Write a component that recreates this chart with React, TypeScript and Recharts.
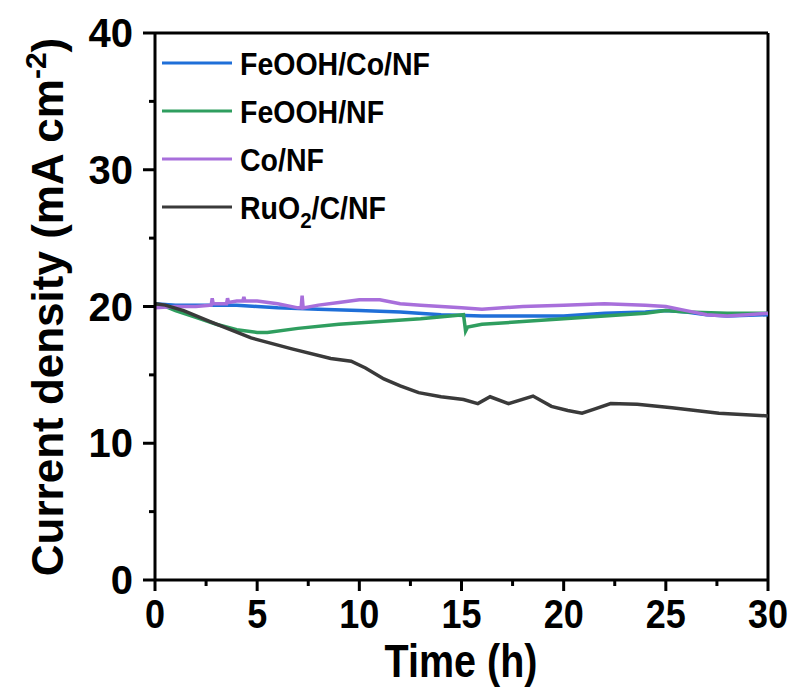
import React from 'react';
import { LineChart, Line, XAxis, YAxis, ReferenceLine, Legend, Label } from 'recharts';

const seriesNames = ['FeOOH/Co/NF', 'FeOOH/NF', 'Co/NF', 'RuO2/C/NF'];
const seriesColors = ['#1f6fd8', '#2f9e5f', '#a86fdb', '#3a3a3a'];

const feoohCoTime = [0, 1, 2, 3, 4, 5, 6, 8, 10, 12, 14, 16, 18, 20, 22, 24, 25, 26, 27, 28, 30];
const feoohCoValues = [20.2, 20.1, 20.1, 20.1, 20.1, 20.0, 19.9, 19.8, 19.7, 19.6, 19.4, 19.3, 19.3, 19.3, 19.5, 19.6, 19.7, 19.6, 19.4, 19.3, 19.4];

const feoohTime = [0, 0.5, 1, 2, 3, 4, 5, 5.5, 7, 9, 11, 13, 15.1, 15.2, 15.3, 16, 18, 20, 22, 24, 25, 26, 28, 30];
const feoohValues = [20.2, 20.0, 19.7, 19.2, 18.7, 18.3, 18.1, 18.1, 18.4, 18.7, 18.9, 19.1, 19.4, 18.2, 18.5, 18.7, 18.9, 19.1, 19.3, 19.5, 19.7, 19.6, 19.5, 19.5];

const coTime = [0, 1, 2, 2.75, 2.8, 2.85, 3.5, 3.55, 3.6, 4, 4.3, 4.35, 4.4, 5, 6, 7, 7.15, 7.2, 7.25, 8, 9, 10, 11, 12, 13, 14, 15, 16, 18, 20, 22, 24, 25, 26, 27, 28, 29, 30];
const coValues = [19.9, 20.0, 20.0, 20.1, 20.6, 20.2, 20.2, 20.6, 20.3, 20.4, 20.4, 20.7, 20.4, 20.4, 20.2, 19.9, 19.9, 20.8, 19.9, 20.1, 20.3, 20.5, 20.5, 20.2, 20.1, 20.0, 19.9, 19.8, 20.0, 20.1, 20.2, 20.1, 20.0, 19.7, 19.4, 19.3, 19.4, 19.5];

const ruTime = [0, 0.5, 1.4, 2.7, 4.7, 6.7, 8.6, 9.6, 10.3, 11.2, 12.0, 12.9, 14, 15.1, 15.8, 16.4, 17.3, 18.5, 19.4, 20.2, 20.9, 21.5, 22.3, 23.6, 25.3, 27.6, 30];
const ruValues = [20.2, 20.1, 19.7, 18.9, 17.7, 16.9, 16.2, 16.0, 15.5, 14.7, 14.2, 13.7, 13.4, 13.2, 12.9, 13.4, 12.9, 13.45, 12.7, 12.4, 12.2, 12.5, 12.9, 12.85, 12.6, 12.2, 12.0];

const xTicks = [0, 2.5, 5, 7.5, 10, 12.5, 15, 17.5, 20, 22.5, 25, 27.5, 30];
const yTicks = [0, 5, 10, 15, 20, 25, 30, 35, 40];

const toRows = (t: number[], v: number[]) => t.map((time, i) => ({ time, value: v[i] }));
const seriesData = [
  toRows(feoohCoTime, feoohCoValues),
  toRows(feoohTime, feoohValues),
  toRows(coTime, coValues),
  toRows(ruTime, ruValues),
];

const FONT = '"Liberation Sans", Arial, sans-serif';

const XTick = (props: any) => {
  const { x, y, payload } = props;
  const major = payload.value % 5 === 0;
  return (
    <g>
      <line x1={x} x2={x} y1={y} y2={y + (major ? 11 : 6)} stroke="#000" strokeWidth={3} />
      {major && (
        <text
          transform={`translate(${x}, ${y + 48}) scale(0.9, 1)`}
          textAnchor="middle"
          fontFamily={FONT}
          fontWeight="bold"
          fontSize={40}
          fill="#000"
        >
          {payload.value}
        </text>
      )}
    </g>
  );
};

const YTick = (props: any) => {
  const { x, y, payload } = props;
  const major = payload.value % 10 === 0;
  return (
    <g>
      <line x1={x} x2={x - (major ? 12 : 6)} y1={y} y2={y} stroke="#000" strokeWidth={3} />
      {major && (
        <text x={x - 22} y={y + 14} textAnchor="end" fontFamily={FONT} fontWeight="bold" fontSize={40} fill="#000">
          {payload.value}
        </text>
      )}
    </g>
  );
};

const renderName = (name: string) => {
  const parts = name.split(/(\d)/);
  const out: any[] = [];
  let shifted = false;
  parts.forEach((p, i) => {
    if (p === '') return;
    if (/^\d$/.test(p)) {
      out.push(<tspan key={i} dy={9} fontSize="0.72em">{p}</tspan>);
      shifted = true;
    } else {
      out.push(<tspan key={i} dy={shifted ? -9 : 0}>{p}</tspan>);
      shifted = false;
    }
  });
  return out;
};

const LegendContent = () => (
  <svg width={330} height={200} style={{ display: 'block' }}>
    {seriesNames.map((name, i) => {
      const cy = 25 + i * 48;
      return (
        <g key={name}>
          <line x1={4} x2={74} y1={cy} y2={cy} stroke={seriesColors[i]} strokeWidth={3} />
          <text
            transform={`translate(82, ${cy + 12}) scale(0.92, 1)`}
            fontFamily={FONT}
            fontWeight="bold"
            fontSize={31}
            fill="#000"
          >
            {renderName(name)}
          </text>
        </g>
      );
    })}
  </svg>
);

const YLabel = () => (
  <text transform="translate(63, 307) rotate(-90)" textAnchor="middle" fontFamily={FONT} fontWeight="bold" fontSize={44} fill="#000">
    Current density (mA cm
    <tspan dy={-17} fontSize={30}>-2</tspan>
    <tspan dy={17}>)</tspan>
  </text>
);

const XLabel = () => (
  <text transform="translate(461, 677) scale(0.84, 1)" textAnchor="middle" fontFamily={FONT} fontWeight="bold" fontSize={47} fill="#000">
    Time (h)
  </text>
);

export default function App() {
  return (
    <div style={{ position: 'absolute', left: 0, top: 0, width: 795, height: 688, background: '#fff' }}>
      <LineChart width={795} height={688} margin={{ top: 33, right: 27, bottom: 8, left: 0 }}>
        <XAxis
          type="number"
          dataKey="time"
          domain={[0, 30]}
          ticks={xTicks}
          tick={<XTick />}
          tickLine={false}
          tickSize={0}
          tickMargin={0}
          height={100}
          axisLine={{ stroke: '#000', strokeWidth: 3 }}
          allowDataOverflow
        >
          <Label content={<XLabel />} />
        </XAxis>
        <YAxis
          type="number"
          domain={[0, 40]}
          ticks={yTicks}
          tick={<YTick />}
          tickLine={false}
          tickSize={0}
          tickMargin={0}
          width={155}
          axisLine={{ stroke: '#000', strokeWidth: 3 }}
          allowDataOverflow
        >
          <Label content={<YLabel />} />
        </YAxis>
        <ReferenceLine y={40} stroke="#000" strokeWidth={3} />
        <ReferenceLine x={30} stroke="#000" strokeWidth={3} />
        {seriesData.map((rows, i) => (
          <Line
            key={seriesNames[i]}
            data={rows}
            dataKey="value"
            name={seriesNames[i]}
            type="linear"
            stroke={seriesColors[i]}
            strokeWidth={3.5}
            dot={false}
            activeDot={false}
            isAnimationActive={false}
          />
        ))}
        <Legend
          layout="vertical"
          align="center"
          verticalAlign="middle"
          wrapperStyle={{ left: 158, top: 38, width: 330, height: 200 }}
          content={<LegendContent />}
        />
      </LineChart>
    </div>
  );
}
